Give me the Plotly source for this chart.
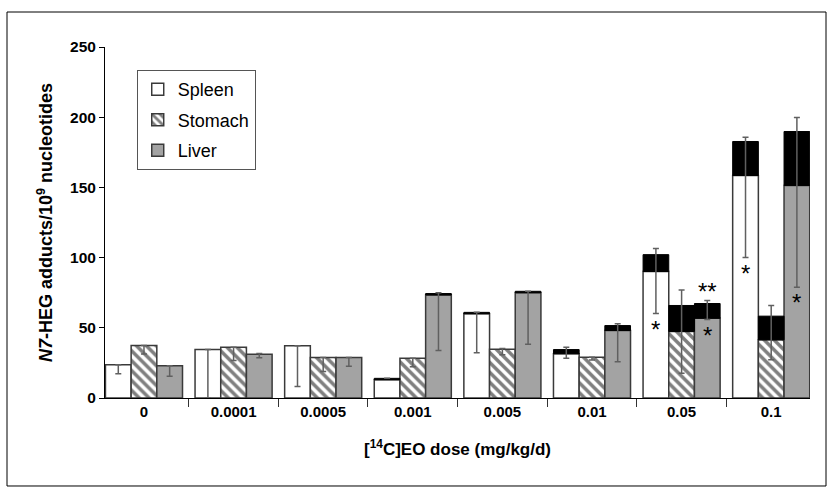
import plotly.graph_objects as go

categories = ["0", "0.0001", "0.0005", "0.001", "0.005", "0.01", "0.05", "0.1"]

spleen = [23.6, 34.5, 37.2, 13.0, 60.0, 31.5, 90.1, 158.5]
spleen_black = [None, None, None, 1.0, 1.0, 3.0, 12.0, 24.2]
spleen_err_plus = [0, 0, 0, 0, 0, 1.7, 4.3, 3.1]
spleen_err_minus = [6.4, 34.5, 29.0, 0, 28.8, 6.2, 42.0, 82.7]

stomach = [37.4, 36.2, 28.8, 28.3, 34.8, 29.1, 47.4, 41.4]
stomach_black = [None, None, None, None, None, None, 18.5, 16.9]
stomach_err_plus = [0, 0, 0, 0, 0.5, 0, 11.1, 7.6]
stomach_err_minus = [6.0, 9.5, 10.0, 6.0, 4.0, 2.0, 48.2, 31.1]

liver = [22.9, 31.2, 28.8, 73.4, 75.0, 48.1, 56.8, 151.4]
liver_black = [None, None, None, 1.0, 1.0, 3.5, 10.5, 38.4]
liver_err_plus = [0, 0.5, 0, 0.5, 0, 1.2, 2.1, 10.0]
liver_err_minus = [7.4, 2.6, 6.2, 40.6, 37.7, 25.8, 11.4, 110.9]

# significance markers: (category, organ, text, y value, position)
stars = [
    ("0.05", "s", "*", 60.0, "below"),
    ("0.05", "l", "**", 69.4, "above"),
    ("0.05", "l", "*", 55.9, "below"),
    ("0.1", "s", "*", 100.0, "below"),
    ("0.1", "l", "*", 78.9, "below"),
]

OUT = "#3a3a3a"
ERR = "#606060"
GRAY = "#a3a3a3"
FONT = "Liberation Sans"

def tot(a, b):
    return [x + (y or 0) for x, y in zip(a, b)]

fig = go.Figure()

organs = [
    ("Spleen", "s", spleen, spleen_black, spleen_err_plus, spleen_err_minus,
     dict(color="white", line=dict(color=OUT, width=1.5))),
    ("Stomach", "t", stomach, stomach_black, stomach_err_plus, stomach_err_minus,
     dict(color="white", line=dict(color=OUT, width=1.5),
          pattern=dict(shape="\\", fgcolor="black", bgcolor="white", size=7, solidity=0.5))),
    ("Liver", "l", liver, liver_black, liver_err_plus, liver_err_minus,
     dict(color=GRAY, line=dict(color=OUT, width=1.5))),
]

for name, og, vals, blk, ep, em, marker in organs:
    fig.add_trace(go.Bar(x=categories, y=vals, name=name, offsetgroup=og,
                         legendgroup=name, marker=marker))
for name, og, vals, blk, ep, em, marker in organs:
    fig.add_trace(go.Bar(x=categories, y=blk, base=vals, offsetgroup=og, showlegend=False,
                         marker=dict(color="black", line=dict(color="black", width=1))))
for name, og, vals, blk, ep, em, marker in organs:
    fig.add_trace(go.Bar(x=categories, y=tot(vals, blk), offsetgroup=og, showlegend=False,
                         marker=dict(color="rgba(0,0,0,0)", line=dict(width=0)),
                         error_y=dict(type="data", symmetric=False, array=ep, arrayminus=em,
                                      color=ERR, thickness=1.5, width=3)))

shift = {"s": -25.7, "t": 0, "l": 25.7}
for cat, og, txt, yv, pos in stars:
    fig.add_annotation(x=categories.index(cat), y=yv, xref="x", yref="y", text=txt,
                       showarrow=False, xshift=shift[og],
                       yanchor="top" if pos == "below" else "bottom",
                       yshift=0 if pos == "below" else -6,
                       font=dict(family=FONT, size=24, color="black"))

# outer frame
fig.add_shape(type="rect", xref="paper", yref="paper", x0=-0.139, x1=1.0227,
              y0=-0.2507, y1=1.0997, line=dict(color="black", width=1))

fig.update_layout(
    width=833, height=493,
    margin=dict(l=105, r=23, t=47, b=95),
    paper_bgcolor="white", plot_bgcolor="white",
    barmode="group", bargap=0.14, bargroupgap=0,
    font=dict(family=FONT, color="black"),
    legend=dict(x=0.045, y=0.934, xanchor="left", yanchor="top",
                bordercolor="#555555", borderwidth=1, bgcolor="white",
                font=dict(size=18, family=FONT),
                traceorder="grouped", tracegroupgap=4),
    showlegend=True,
)
fig.update_xaxes(type="category", range=[-0.435, 7.433], showline=True, linecolor="black",
                 linewidth=1, ticks="outside", tickson="boundaries", ticklen=8,
                 tickcolor="#333", showgrid=False,
                 tickfont=dict(size=15, family=FONT, weight="bold"),
                 title=dict(text="[<sup>14</sup>C]EO dose (mg/kg/d)", standoff=24,
                            font=dict(size=17, family=FONT, weight="bold")))
fig.update_yaxes(range=[0, 250], tickvals=[0, 50, 100, 150, 200, 250], showline=True,
                 linecolor="black", linewidth=1, ticks="outside", ticklen=5,
                 tickcolor="black", showgrid=False, zeroline=False,
                 tickfont=dict(size=15.5, family=FONT, weight="bold"),
                 title=dict(text="<i>N7</i>-HEG adducts/10<sup>9</sup> nucleotides", standoff=12,
                            font=dict(size=18, family=FONT, weight="bold")))

fig.write_html("out.html", config={"displayModeBar": False},
               post_script="document.body.style.margin='0';")
